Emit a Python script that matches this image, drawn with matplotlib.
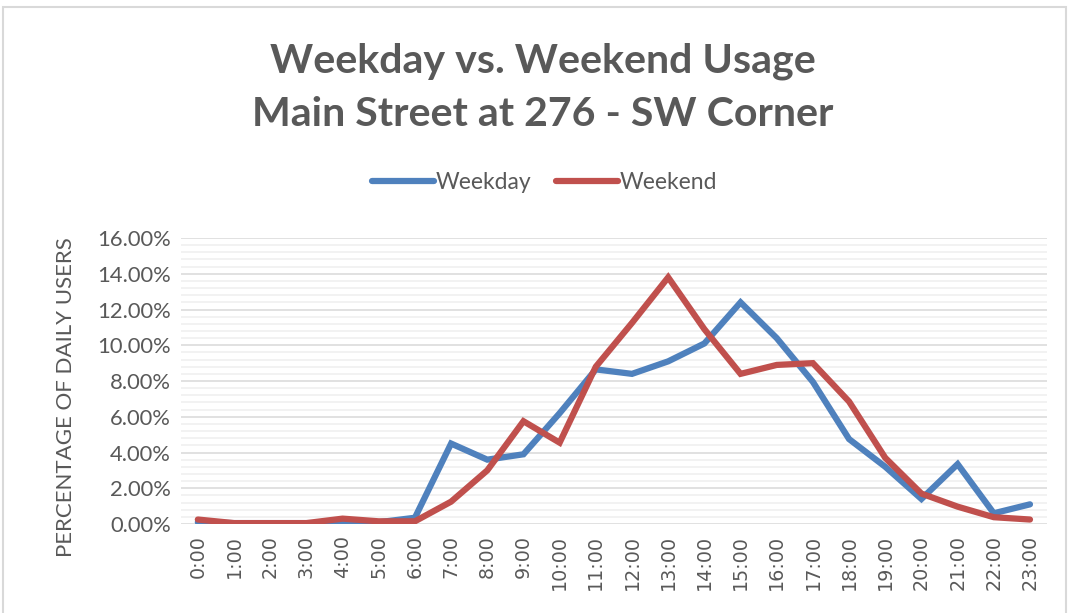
import matplotlib.pyplot as plt
import numpy as np
from matplotlib.patches import Rectangle
from matplotlib.ticker import FuncFormatter, MultipleLocator

plt.rcParams['font.family'] = ['Lato', 'DejaVu Sans']

hours = [f"{h}:00" for h in range(24)]
weekday = [0.10, 0.05, 0.05, 0.05, 0.05, 0.10, 0.35, 4.50, 3.60, 3.90, 6.20, 8.65,
           8.40, 9.10, 10.10, 12.40, 10.40, 7.95, 4.75, 3.20, 1.40, 3.35, 0.60, 1.10]
weekend = [0.25, 0.05, 0.05, 0.05, 0.30, 0.15, 0.15, 1.25, 3.00, 5.75, 4.55, 8.80,
           11.25, 13.80, 10.90, 8.40, 8.90, 9.00, 6.85, 3.70, 1.70, 0.97, 0.38, 0.25]

grey = '#595959'
fig = plt.figure(figsize=(10.7, 6.13), dpi=100)
ax = fig.add_axes([0.169, 0.1452, 0.8095, 0.4665])

x = np.arange(len(hours))
ax.plot(x, np.array(weekday) / 100, color='#4F81BD', lw=4.5, label='Weekday',
        solid_joinstyle='miter', solid_capstyle='round', zorder=3)
ax.plot(x, np.array(weekend) / 100, color='#C0504D', lw=4.5, label='Weekend',
        solid_joinstyle='miter', solid_capstyle='round', zorder=3)

ax.set_xlim(-0.47, 23.47)
ax.set_ylim(0, 0.16)
ax.yaxis.set_major_locator(MultipleLocator(0.02))
ax.yaxis.set_minor_locator(MultipleLocator(0.004))
ax.yaxis.set_major_formatter(FuncFormatter(lambda v, p: f"{v*100:.2f}%"))
ax.grid(axis='y', which='major', color='#D9D9D9', lw=1.1, zorder=0)
ax.grid(axis='y', which='minor', color='#EFEFEF', lw=1.1, zorder=0)
ax.set_axisbelow(True)

ax.set_xticks(x)
ax.set_xticklabels(hours, rotation=90, fontsize=13.8, color=grey, family='DejaVu Sans')
ax.tick_params(axis='y', labelsize=15.8, labelcolor=grey, length=0, pad=7)
ax.tick_params(axis='x', length=0, pad=8)
ax.tick_params(which='minor', length=0)
for s in ax.spines.values():
    s.set_visible(False)

ax.set_ylabel('PERCENTAGE OF DAILY USERS', fontsize=16, color=grey)
ax.yaxis.set_label_coords(-0.121, 0.444)

fig.text(0.507, 0.9, 'Weekday vs. Weekend Usage', ha='center', va='center',
         fontsize=29.6, fontweight='bold', color=grey)
fig.text(0.507, 0.813, 'Main Street at 276 - SW Corner', ha='center', va='center',
         fontsize=29.6, fontweight='bold', color=grey)

fig.legend(loc='center', bbox_to_anchor=(0.509, 0.702), ncol=2, frameon=False,
           fontsize=16.5, labelcolor=grey, handlelength=2.7, handletextpad=0.05,
           columnspacing=1.1)

fig.patches.append(Rectangle((3 / 1070, -0.1), 1063 / 1070, 1.1 - 7 / 613,
                             transform=fig.transFigure, fill=False,
                             edgecolor='#D9D9D9', lw=1.5))

fig.savefig('out.png', dpi=100)
